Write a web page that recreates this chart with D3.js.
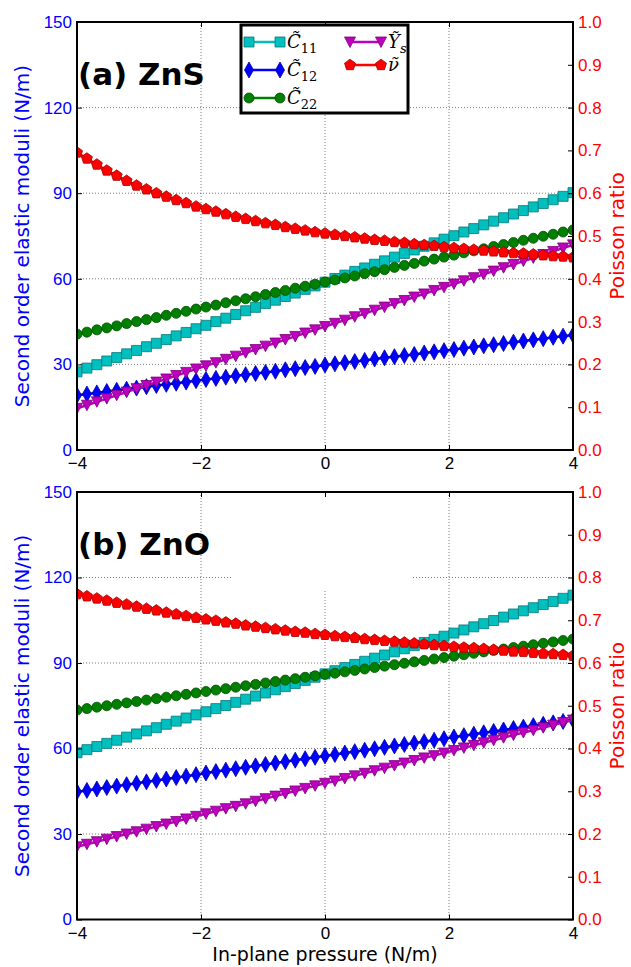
<!DOCTYPE html>
<html lang="en">
<head>
<meta charset="UTF-8">
<title>Second order elastic moduli and Poisson ratio of ZnS / ZnO</title>
<style>
  body { margin: 0; background: #fff; }
  svg { font-family: "DejaVu Sans", sans-serif; }
</style>
</head>
<body>
<div id="chart"></div>
<script src="https://d3js.org/d3.v7.min.js"></script>
<script>
// in-plane pressure (N/m), 51 points
const pressure = [-4, -3.84, -3.68, -3.52, -3.36, -3.2, -3.04, -2.88, -2.72, -2.56, -2.4, -2.24, -2.08,
  -1.92, -1.76, -1.6, -1.44, -1.28, -1.12, -0.96, -0.8, -0.64, -0.48, -0.32, -0.16, 0,
  0.16, 0.32, 0.48, 0.64, 0.8, 0.96, 1.12, 1.28, 1.44, 1.6, 1.76, 1.92, 2.08, 2.24, 2.4,
  2.56, 2.72, 2.88, 3.04, 3.2, 3.36, 3.52, 3.68, 3.84, 4];

// (a) ZnS
const znsC11 = [27.4, 28.7, 29.9, 31.2, 32.4, 33.7, 34.9, 36.2, 37.4, 38.7, 40.0, 41.2, 42.5, 43.7, 45.0, 46.2, 47.5,
  48.8, 50.0, 51.3, 52.5, 53.8, 55.0, 56.3, 57.5, 58.8, 60.1, 61.3, 62.6, 63.8, 65.1, 66.3, 67.6, 68.9, 70.1,
  71.4, 72.6, 73.9, 75.1, 76.4, 77.6, 78.9, 80.2, 81.4, 82.7, 83.9, 85.2, 86.4, 87.7, 88.9, 90.2];
const znsC12 = [19.2, 19.6, 20.0, 20.5, 20.9, 21.3, 21.7, 22.2, 22.6, 23.0, 23.4, 23.8, 24.3, 24.7, 25.1, 25.5, 26.0,
  26.4, 26.8, 27.2, 27.6, 28.1, 28.5, 28.9, 29.3, 29.8, 30.2, 30.6, 31.0, 31.4, 31.9, 32.3, 32.7, 33.1, 33.5,
  34.0, 34.4, 34.8, 35.2, 35.7, 36.1, 36.5, 36.9, 37.3, 37.8, 38.2, 38.6, 39.0, 39.5, 39.9, 40.3];
const znsC22 = [40.6, 41.3, 42.1, 42.8, 43.5, 44.3, 45.0, 45.7, 46.4, 47.2, 47.9, 48.6, 49.4, 50.1, 50.8, 51.6, 52.3,
  53.0, 53.7, 54.5, 55.2, 55.9, 56.7, 57.4, 58.1, 58.9, 59.6, 60.3, 61.0, 61.8, 62.5, 63.2, 64.0, 64.7, 65.4,
  66.2, 66.9, 67.6, 68.3, 69.1, 69.8, 70.5, 71.3, 72.0, 72.7, 73.5, 74.2, 74.9, 75.6, 76.4, 77.1];
const znsYs = [14.6, 15.7, 16.9, 18.0, 19.2, 20.3, 21.5, 22.6, 23.8, 24.9, 26.1, 27.2, 28.4, 29.5, 30.6, 31.8, 32.9,
  34.1, 35.2, 36.4, 37.5, 38.7, 39.8, 41.0, 42.1, 43.3, 44.4, 45.5, 46.7, 47.8, 49.0, 50.1, 51.3, 52.4, 53.6,
  54.7, 55.9, 57.0, 58.2, 59.3, 60.4, 61.6, 62.7, 63.9, 65.0, 66.2, 67.3, 68.5, 69.6, 70.8, 71.9];
const znsNu = [0.695, 0.681, 0.667, 0.653, 0.641, 0.629, 0.618, 0.609, 0.600, 0.592, 0.584, 0.577, 0.569, 0.563,
  0.557, 0.551, 0.545, 0.540, 0.535, 0.530, 0.526, 0.521, 0.517, 0.513, 0.509, 0.506, 0.503, 0.500, 0.497,
  0.494, 0.491, 0.489, 0.486, 0.484, 0.481, 0.479, 0.477, 0.474, 0.472, 0.470, 0.468, 0.466, 0.464, 0.462,
  0.460, 0.459, 0.457, 0.455, 0.453, 0.452, 0.450];

// (b) ZnO
const znoC11 = [58.5, 59.6, 60.7, 61.8, 62.9, 64.0, 65.1, 66.2, 67.3, 68.5, 69.6, 70.7, 71.8, 72.9, 74.0, 75.1, 76.2,
  77.3, 78.4, 79.5, 80.6, 81.7, 82.8, 83.9, 85.0, 86.2, 87.3, 88.4, 89.5, 90.6, 91.7, 92.8, 93.9, 95.0, 96.1,
  97.2, 98.3, 99.4, 100.5, 101.6, 102.7, 103.8, 104.9, 106.1, 107.2, 108.3, 109.4, 110.5, 111.6, 112.7, 113.8];
const znoC12 = [44.8, 45.3, 45.8, 46.3, 46.8, 47.3, 47.8, 48.3, 48.8, 49.3, 49.8, 50.3, 50.8, 51.4, 51.9, 52.4, 52.9,
  53.4, 53.9, 54.4, 54.9, 55.4, 55.9, 56.4, 56.9, 57.4, 57.9, 58.4, 58.9, 59.4, 59.9, 60.4, 60.9, 61.4, 61.9,
  62.4, 62.9, 63.4, 64.0, 64.5, 65.0, 65.5, 66.0, 66.5, 67.0, 67.5, 68.0, 68.5, 69.0, 69.5, 70.0];
const znoC22 = [73.5, 74.0, 74.5, 75.0, 75.5, 76.0, 76.5, 77.0, 77.5, 78.0, 78.5, 79.0, 79.5, 80.0, 80.5, 81.0, 81.5,
  82.0, 82.5, 83.0, 83.5, 84.0, 84.5, 85.0, 85.5, 86.0, 86.4, 86.9, 87.4, 87.9, 88.4, 88.9, 89.4, 89.9, 90.4,
  90.9, 91.4, 91.9, 92.4, 92.9, 93.4, 93.9, 94.4, 94.9, 95.4, 95.9, 96.4, 96.9, 97.4, 97.9, 98.4];
const znoYs = [25.5, 26.4, 27.3, 28.2, 29.1, 30.0, 30.8, 31.7, 32.6, 33.5, 34.4, 35.3, 36.2, 37.1, 38.0, 38.9, 39.7,
  40.6, 41.5, 42.4, 43.3, 44.2, 45.1, 46.0, 46.9, 47.8, 48.6, 49.5, 50.4, 51.3, 52.2, 53.1, 54.0, 54.9, 55.8,
  56.7, 57.5, 58.4, 59.3, 60.2, 61.1, 62.0, 62.9, 63.8, 64.7, 65.6, 66.4, 67.3, 68.2, 69.1, 70.0];
const znoNu = [0.761, 0.756, 0.751, 0.746, 0.741, 0.737, 0.732, 0.727, 0.723, 0.718, 0.714, 0.710, 0.706, 0.702,
  0.699, 0.695, 0.692, 0.688, 0.685, 0.682, 0.679, 0.676, 0.673, 0.671, 0.668, 0.666, 0.663, 0.661, 0.659,
  0.656, 0.654, 0.652, 0.650, 0.648, 0.646, 0.644, 0.642, 0.640, 0.638, 0.636, 0.635, 0.633, 0.631, 0.629,
  0.627, 0.626, 0.624, 0.622, 0.621, 0.619, 0.617];

const xTicks = [-4, -2, 0, 2, 4];
const leftTicks = [0, 30, 60, 90, 120, 150];
const rightTicks = [0, 0.1, 0.2, 0.3, 0.4, 0.5, 0.6, 0.7, 0.8, 0.9, 1.0];

const W = 631, H = 967;
const svg = d3.select("#chart").append("svg")
  .attr("width", W)
  .attr("height", H);

const x = d3.scaleLinear().domain([-4, 4]).range([77, 573]);

// marker shapes, centred on 0,0
const shapes = {
  square: "M-5,-5h10v10h-10Z",
  diamond: "M0,-8L4.5,0L0,8L-4.5,0Z",
  circle: "M5,0A5,5 0 1,1 -5,0A5,5 0 1,1 5,0Z",
  tri: "M-5.5,-5L5.5,-5L0,5.5Z",
  penta: "M0,-5.8L5.5,-1.8L3.4,4.7L-3.4,4.7L-5.5,-1.8Z"
};

const styles = [
  {key: "C11", color: "#00bfbf", edge: "#067878", shape: "square", axis: "L"},
  {key: "C12", color: "#0000ff", edge: "#0000a0", shape: "diamond", axis: "L"},
  {key: "C22", color: "#008000", edge: "#004d00", shape: "circle", axis: "L"},
  {key: "Ys", color: "#bf00bf", edge: "#7a007a", shape: "tri", axis: "L"},
  {key: "nu", color: "#ff0000", edge: "#a00000", shape: "penta", axis: "R"}
];

function drawPanel(top, bottom, title, data, idx, withLegend) {
  const yL = d3.scaleLinear().domain([0, 150]).range([bottom, top]);
  const yR = d3.scaleLinear().domain([0, 1]).range([bottom, top]);
  const g = svg.append("g");

  const clipId = "clip" + idx;
  svg.append("clipPath").attr("id", clipId)
    .append("rect")
    .attr("x", x(-4)).attr("y", top)
    .attr("width", x(4) - x(-4)).attr("height", bottom - top);

  // grid
  const grid = g.append("g")
    .attr("stroke", "#444")
    .attr("stroke-width", 0.7)
    .attr("stroke-dasharray", "1,2");
  grid.selectAll(".gx").data(xTicks.slice(1, -1)).enter().append("line")
    .attr("x1", d => x(d)).attr("x2", d => x(d))
    .attr("y1", top).attr("y2", bottom);
  grid.selectAll(".gy").data(leftTicks.slice(1, -1)).enter().append("line")
    .attr("x1", x(-4)).attr("x2", x(4))
    .attr("y1", d => yL(d)).attr("y2", d => yL(d));

  // empty legend frame left on panel (b)
  if (!withLegend) {
    g.append("rect")
      .attr("x", 233).attr("y", top + 2)
      .attr("width", 180).attr("height", 96)
      .attr("fill", "#fff");
  }

  const plot = g.append("g").attr("clip-path", `url(#${clipId})`);
  styles.forEach((s, k) => {
    const y = s.axis === "L" ? yL : yR;
    const vals = data[k];
    const line = d3.line()
      .x((d, i) => x(pressure[i]))
      .y(d => y(d));
    plot.append("path")
      .attr("d", line(vals))
      .attr("fill", "none")
      .attr("stroke", s.color)
      .attr("stroke-width", 2.5);
    plot.selectAll(".m" + k).data(vals).enter().append("path")
      .attr("transform", (d, i) => `translate(${x(pressure[i])},${y(d)})`)
      .attr("d", shapes[s.shape])
      .attr("fill", s.color)
      .attr("stroke", s.edge)
      .attr("stroke-width", 0.8);
  });

  // axes, ticks pointing inwards
  const axL = g.append("g")
    .attr("transform", `translate(${x(-4)},0)`)
    .call(d3.axisLeft(yL).tickValues(leftTicks).tickSize(-5).tickPadding(5).tickFormat(d3.format("d")));
  axL.selectAll("text").attr("fill", "#0000ff").style("font-size", "17px");

  const axR = g.append("g")
    .attr("transform", `translate(${x(4)},0)`)
    .call(d3.axisRight(yR).tickValues(rightTicks).tickSize(-5).tickPadding(5).tickFormat(d3.format(".1f")));
  axR.selectAll("text").attr("fill", "#ff0000").style("font-size", "17px");

  const axB = g.append("g")
    .attr("transform", `translate(0,${bottom})`)
    .call(d3.axisBottom(x).tickValues(xTicks).tickSize(-5).tickPadding(7).tickFormat(d3.format("d")));
  axB.selectAll("text").attr("fill", "#000").style("font-size", "17px");

  const axT = g.append("g")
    .attr("transform", `translate(0,${top})`)
    .call(d3.axisTop(x).tickValues(xTicks).tickSize(-5).tickFormat(""));

  [axL, axR, axB, axT].forEach(a => {
    a.select(".domain").remove();
    a.selectAll(".tick line").attr("stroke", "#000").attr("stroke-width", 1);
  });

  // frame
  g.append("rect")
    .attr("x", x(-4)).attr("y", top)
    .attr("width", x(4) - x(-4)).attr("height", bottom - top)
    .attr("fill", "none")
    .attr("stroke", "#000")
    .attr("stroke-width", 2);

  // panel tag
  g.append("text")
    .attr("x", 78).attr("y", top + 63)
    .attr("font-size", "31px")
    .attr("font-weight", "bold")
    .text(title);

  // axis titles
  const cy = (top + bottom) / 2;
  g.append("text")
    .attr("transform", `translate(29,${cy}) rotate(-90)`)
    .attr("text-anchor", "middle")
    .attr("fill", "#0000ff")
    .attr("font-size", "20px")
    .text("Second order elastic moduli (N/m)");
  g.append("text")
    .attr("transform", `translate(624,${cy}) rotate(-90)`)
    .attr("text-anchor", "middle")
    .attr("fill", "#ff0000")
    .attr("font-size", "20px")
    .text("Poisson ratio");

  if (withLegend) drawLegend(top);
}

function drawLegend(top) {
  const lg = svg.append("g");
  lg.append("rect")
    .attr("x", 241).attr("y", top + 3)
    .attr("width", 167).attr("height", 88)
    .attr("fill", "#fff")
    .attr("stroke", "#000")
    .attr("stroke-width", 3);

  const items = [
    {s: 0, x0: 249, y: top + 20, sym: "C", sub: "11"},
    {s: 1, x0: 249, y: top + 48, sym: "C", sub: "12"},
    {s: 2, x0: 249, y: top + 76, sym: "C", sub: "22"},
    {s: 3, x0: 350, y: top + 20, sym: "Y", sub: "s"},
    {s: 4, x0: 350, y: top + 43, sym: "\u03bd", sub: ""}
  ];
  items.forEach(it => {
    const s = styles[it.s];
    lg.append("line")
      .attr("x1", it.x0).attr("x2", it.x0 + 31)
      .attr("y1", it.y).attr("y2", it.y)
      .attr("stroke", s.color).attr("stroke-width", 2.5);
    [it.x0, it.x0 + 31].forEach(px => {
      lg.append("path")
        .attr("transform", `translate(${px},${it.y})`)
        .attr("d", shapes[s.shape])
        .attr("fill", s.color)
        .attr("stroke", s.edge)
        .attr("stroke-width", 0.8);
    });
    const t = lg.append("text")
      .attr("x", it.x0 + 38).attr("y", it.y + 6)
      .attr("font-family", "'DejaVu Serif', serif")
      .attr("font-size", "18px");
    t.append("tspan").attr("font-style", "italic").text(it.sym + "\u0303");
    if (it.sub) {
      t.append("tspan")
        .attr("dy", 5)
        .attr("font-size", "13px")
        .attr("font-style", it.sub === "s" ? "italic" : "normal")
        .text(it.sub);
    }
  });
}

drawPanel(22, 450, "(a) ZnS", [znsC11, znsC12, znsC22, znsYs, znsNu], 0, true);
drawPanel(492, 919.5, "(b) ZnO", [znoC11, znoC12, znoC22, znoYs, znoNu], 1, false);

svg.append("text")
  .attr("x", x(0)).attr("y", 961)
  .attr("text-anchor", "middle")
  .attr("font-size", "19px")
  .text("In-plane pressure (N/m)");
</script>
</body>
</html>
